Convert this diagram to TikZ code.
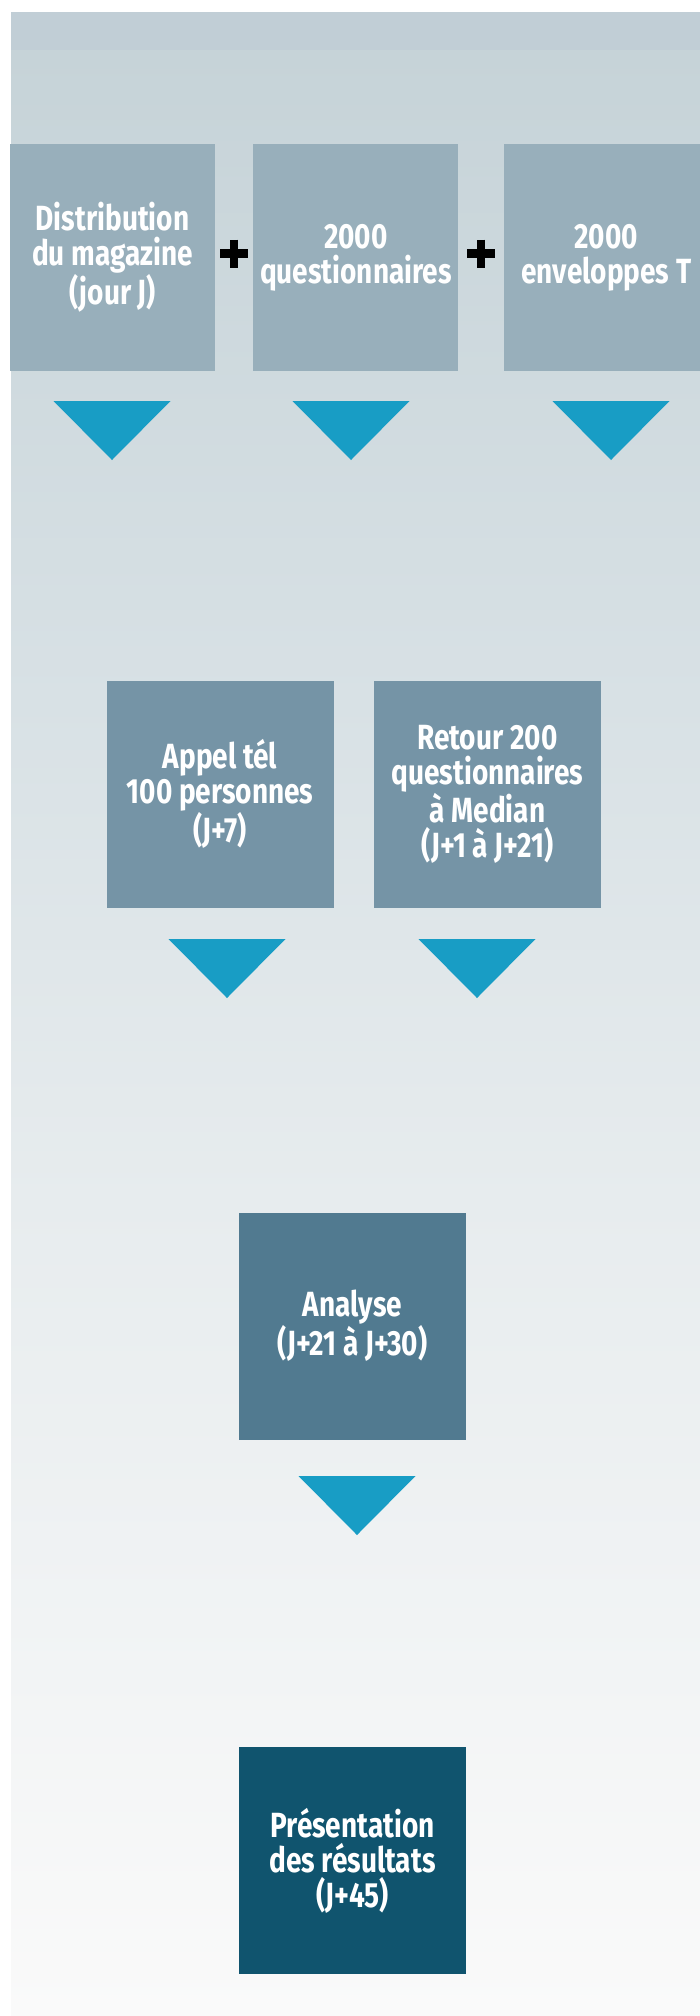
\documentclass[tikz,border=0pt]{standalone}
\usepackage{fontspec}
\newfontfamily\boxfont{Fira Sans}[FakeStretch=0.8]
\usepackage{tikz}
\usetikzlibrary{calc,positioning}
\definecolor{bgband}{HTML}{C1CED6}
\definecolor{bgA}{HTML}{C6D3D8}
\definecolor{bgB}{HTML}{D8E1E5}
\definecolor{bgC}{HTML}{E7ECEE}
\definecolor{bgD}{HTML}{FAFAFA}
\definecolor{rowone}{HTML}{98AFBB}
\definecolor{rowtwo}{HTML}{7594A6}
\definecolor{rowthree}{HTML}{517A90}
\definecolor{rowfour}{HTML}{10546E}
\definecolor{tricol}{HTML}{189DC5}
\tikzset{%
	box/.style       = {rectangle, inner sep=0pt, minimum width=227pt, minimum height=227pt, align=center, text=white, font=\boxfont\bfseries\fontsize{35}{35}\selectfont},
	inputbox/.style  = {box, fill=rowone, minimum width=205pt},
	callbox/.style   = {box, fill=rowtwo},
	analysebox/.style= {box, fill=rowthree},
	resultbox/.style = {box, fill=rowfour},
	arrowtri/.style  = {fill=tricol},
	plussign/.style  = {line width=8.5pt, black},
}

\begin{document}
\begin{tikzpicture}[x=1pt,y=-1pt]
	\useasboundingbox (0,0) rectangle (700,2016);
	% background
	\fill[bgband] (11,12) rectangle (700,50);
	\shade[top color=bgA, bottom color=bgB] (11,50) rectangle (700,700);
	\shade[top color=bgB, bottom color=bgC] (11,699.5) rectangle (700,1200);
	\shade[top color=bgC, bottom color=bgD] (11,1199.5) rectangle (700,2016);
	% first row
	\node[inputbox] (dist) at (112.5,257.5) {Distribution\\du magazine\\(jour J)};
	\node[inputbox, right=38pt of dist] (quest) {2000\\questionnaires};
	\node[inputbox, right=45pt of quest] (env) {2000\\enveloppes T};
	\coordinate (plusA) at ($(dist.east)!0.5!(quest.west)+(0,-4)$);
	\coordinate (plusB) at ($(quest.east)!0.5!(env.west)+(0,-4)$);
	\foreach \p in {plusA,plusB} {
		\draw[plussign] ($(\p)+(-14,0)$) -- ($(\p)+(14,0)$);
		\draw[plussign] ($(\p)+(0,-14)$) -- ($(\p)+(0,14)$);
	}
	% second row
	\node[callbox] (appel) at (220,794) {Appel tél\\100 personnes\\(J+7)};
	\node[callbox, right=40pt of appel] (retour) {Retour 200\\questionnaires\\à Median\\(J+1 à J+21)};
	% third and fourth row
	\node[analysebox] (analyse) at (352.5,1326) {Analyse\\(J+21 à J+30)};
	\node[resultbox, below=307pt of analyse] (pres) {Présentation\\des résultats\\(J+45)};
	% triangles
	\foreach \x/\y in {112/401,351/401,611/401,227/939,477/939,357/1476}
		\fill[arrowtri] (\x-58.5,\y) -- (\x+58.5,\y) -- (\x,\y+59) -- cycle;
\end{tikzpicture}
\end{document}
